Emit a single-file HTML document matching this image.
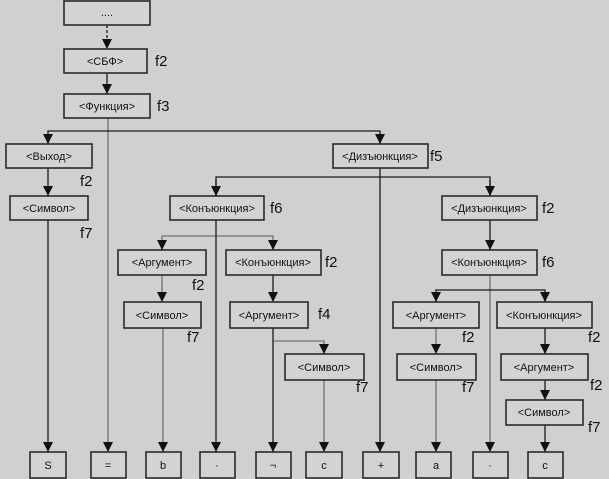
<!DOCTYPE html>
<html><head><meta charset="utf-8"><style>
html,body{margin:0;padding:0;background:#d0d0d0;}
svg{display:block;}
text{font-family:"Liberation Sans",sans-serif;fill:#111;}
.b{fill:#d3d3d3;stroke:#2a2a2a;stroke-width:1.6;}
.l{stroke:#1a1a1a;stroke-width:1.3;fill:none;}
.t{stroke:#333;stroke-width:0.8;fill:none;}
.n{font-size:11px;text-anchor:middle;}
.f{font-size:15px;}
</style></head><body>
<svg width="609" height="479" viewBox="0 0 609 479" xmlns="http://www.w3.org/2000/svg">
<defs><marker id="a" markerWidth="8" markerHeight="8" refX="4" refY="7" orient="auto" markerUnits="userSpaceOnUse"><path d="M0,0 L8,0 L4,8 z" fill="#111" transform="rotate(-90 4 4)"/></marker>
<marker id="d" viewBox="0 0 10 10" markerWidth="10" markerHeight="10" refX="10" refY="5" orient="auto" markerUnits="userSpaceOnUse"><path d="M0,0 L10,5 L0,10 z" fill="#111"/></marker></defs>
<rect width="609" height="479" fill="#d0d0d0"/>
<!-- lines -->
<line class="l" x1="107" y1="25" x2="107" y2="49" stroke-dasharray="3,2" marker-end="url(#d)"/>
<line class="l" x1="107" y1="73" x2="107" y2="94" marker-end="url(#d)"/>
<line class="t" x1="108" y1="118" x2="108" y2="452" marker-end="url(#d)"/>
<polyline class="l" points="48,144 48,131 380,131 380,144"/>
<line class="l" x1="48" y1="134" x2="48" y2="144" marker-end="url(#d)"/>
<line class="l" x1="380" y1="134" x2="380" y2="144" marker-end="url(#d)"/>
<line class="l" x1="48" y1="168" x2="48" y2="196" marker-end="url(#d)"/>
<line class="l" x1="48" y1="220" x2="48" y2="452" marker-end="url(#d)"/>
<line class="l" x1="380" y1="168" x2="380" y2="452" marker-end="url(#d)"/>
<polyline class="l" points="216,196 216,177 490,177 490,196"/>
<line class="l" x1="216" y1="180" x2="216" y2="196" marker-end="url(#d)"/>
<line class="l" x1="490" y1="180" x2="490" y2="196" marker-end="url(#d)"/>
<line class="l" x1="216" y1="220" x2="216" y2="452" marker-end="url(#d)"/>
<polyline class="t" points="162,250 162,236 273,236 273,250"/>
<line class="l" x1="162" y1="240" x2="162" y2="250" marker-end="url(#d)"/>
<line class="l" x1="273" y1="240" x2="273" y2="250" marker-end="url(#d)"/>
<line class="t" x1="162" y1="275" x2="162" y2="302" marker-end="url(#d)"/>
<line class="t" x1="163" y1="328" x2="163" y2="452" marker-end="url(#d)"/>
<line class="l" x1="273" y1="275" x2="273" y2="302" marker-end="url(#d)"/>
<line class="l" x1="273" y1="328" x2="273" y2="452" marker-end="url(#d)"/>
<polyline class="t" points="273,341 324,341 324,354"/>
<line class="l" x1="324" y1="344" x2="324" y2="354" marker-end="url(#d)"/>
<line class="t" x1="324" y1="380" x2="324" y2="452" marker-end="url(#d)"/>
<line class="l" x1="490" y1="220" x2="490" y2="250" marker-end="url(#d)"/>
<line class="t" x1="490" y1="275" x2="490" y2="452" marker-end="url(#d)"/>
<polyline class="l" points="436,302 436,290 545,290 545,302"/>
<line class="l" x1="436" y1="293" x2="436" y2="302" marker-end="url(#d)"/>
<line class="l" x1="545" y1="293" x2="545" y2="302" marker-end="url(#d)"/>
<line class="t" x1="436" y1="328" x2="436" y2="354" marker-end="url(#d)"/>
<line class="t" x1="436" y1="380" x2="436" y2="452" marker-end="url(#d)"/>
<line class="l" x1="545" y1="328" x2="545" y2="354" marker-end="url(#d)"/>
<line class="l" x1="545" y1="380" x2="545" y2="400" marker-end="url(#d)"/>
<line class="l" x1="545" y1="425" x2="545" y2="452" marker-end="url(#d)"/>
<!-- boxes -->
<rect class="b" x="64" y="1" width="86" height="24"/><text class="n" x="107" y="16">....</text>
<rect class="b" x="64" y="49" width="83" height="24"/><text class="n" x="105" y="65">&lt;СБФ&gt;</text><text class="f" x="155" y="66">f2</text>
<rect class="b" x="64" y="94" width="86" height="24"/><text class="n" x="107" y="110">&lt;Функция&gt;</text><text class="f" x="157" y="111">f3</text>
<rect class="b" x="6" y="144" width="86" height="24"/><text class="n" x="49" y="160">&lt;Выход&gt;</text><text class="f" x="80" y="186">f2</text>
<rect class="b" x="10" y="196" width="78" height="24"/><text class="n" x="49" y="212">&lt;Символ&gt;</text><text class="f" x="80" y="238">f7</text>
<rect class="b" x="170" y="196" width="94" height="24"/><text class="n" x="217" y="212">&lt;Конъюнкция&gt;</text><text class="f" x="270" y="213">f6</text>
<rect class="b" x="333" y="144" width="95" height="24"/><text class="n" x="380" y="160">&lt;Дизъюнкция&gt;</text><text class="f" x="430" y="161">f5</text>
<rect class="b" x="442" y="196" width="95" height="24"/><text class="n" x="489" y="212">&lt;Дизъюнкция&gt;</text><text class="f" x="542" y="213">f2</text>
<rect class="b" x="442" y="250" width="95" height="25"/><text class="n" x="489" y="266">&lt;Конъюнкция&gt;</text><text class="f" x="542" y="267">f6</text>
<rect class="b" x="118" y="250" width="88" height="25"/><text class="n" x="162" y="266">&lt;Аргумент&gt;</text><text class="f" x="192" y="290">f2</text>
<rect class="b" x="226" y="250" width="95" height="25"/><text class="n" x="273" y="266">&lt;Конъюнкция&gt;</text><text class="f" x="325" y="267">f2</text>
<rect class="b" x="124" y="302" width="77" height="26"/><text class="n" x="162" y="319">&lt;Символ&gt;</text><text class="f" x="187" y="342">f7</text>
<rect class="b" x="230" y="302" width="78" height="26"/><text class="n" x="269" y="319">&lt;Аргумент&gt;</text><text class="f" x="318" y="319">f4</text>
<rect class="b" x="285" y="354" width="79" height="26"/><text class="n" x="324" y="371">&lt;Символ&gt;</text><text class="f" x="356" y="392">f7</text>
<rect class="b" x="393" y="302" width="86" height="26"/><text class="n" x="436" y="319">&lt;Аргумент&gt;</text><text class="f" x="462" y="342">f2</text>
<rect class="b" x="497" y="302" width="95" height="26"/><text class="n" x="544" y="319">&lt;Конъюнкция&gt;</text><text class="f" x="588" y="342">f2</text>
<rect class="b" x="397" y="354" width="79" height="26"/><text class="n" x="436" y="371">&lt;Символ&gt;</text><text class="f" x="462" y="392">f7</text>
<rect class="b" x="501" y="354" width="87" height="26"/><text class="n" x="544" y="371">&lt;Аргумент&gt;</text><text class="f" x="590" y="390">f2</text>
<rect class="b" x="506" y="400" width="77" height="25"/><text class="n" x="544" y="416">&lt;Символ&gt;</text><text class="f" x="588" y="432">f7</text>
<!-- bottom -->
<rect class="b" x="30" y="452" width="36" height="26"/><text class="n" x="48" y="469">S</text>
<rect class="b" x="91" y="452" width="35" height="26"/><text class="n" x="108" y="469">=</text>
<rect class="b" x="146" y="452" width="35" height="26"/><text class="n" x="163" y="469">b</text>
<rect class="b" x="200" y="452" width="35" height="26"/><text class="n" x="217" y="469">·</text>
<rect class="b" x="256" y="452" width="35" height="26"/><text class="n" x="273" y="469">¬</text>
<rect class="b" x="306" y="452" width="36" height="26"/><text class="n" x="324" y="469">c</text>
<rect class="b" x="363" y="452" width="36" height="26"/><text class="n" x="381" y="469">+</text>
<rect class="b" x="416" y="452" width="35" height="26"/><text class="n" x="436" y="469">a</text>
<rect class="b" x="473" y="452" width="35" height="26"/><text class="n" x="490" y="469">·</text>
<rect class="b" x="528" y="452" width="35" height="26"/><text class="n" x="545" y="469">c</text>
</svg>
</body></html>
